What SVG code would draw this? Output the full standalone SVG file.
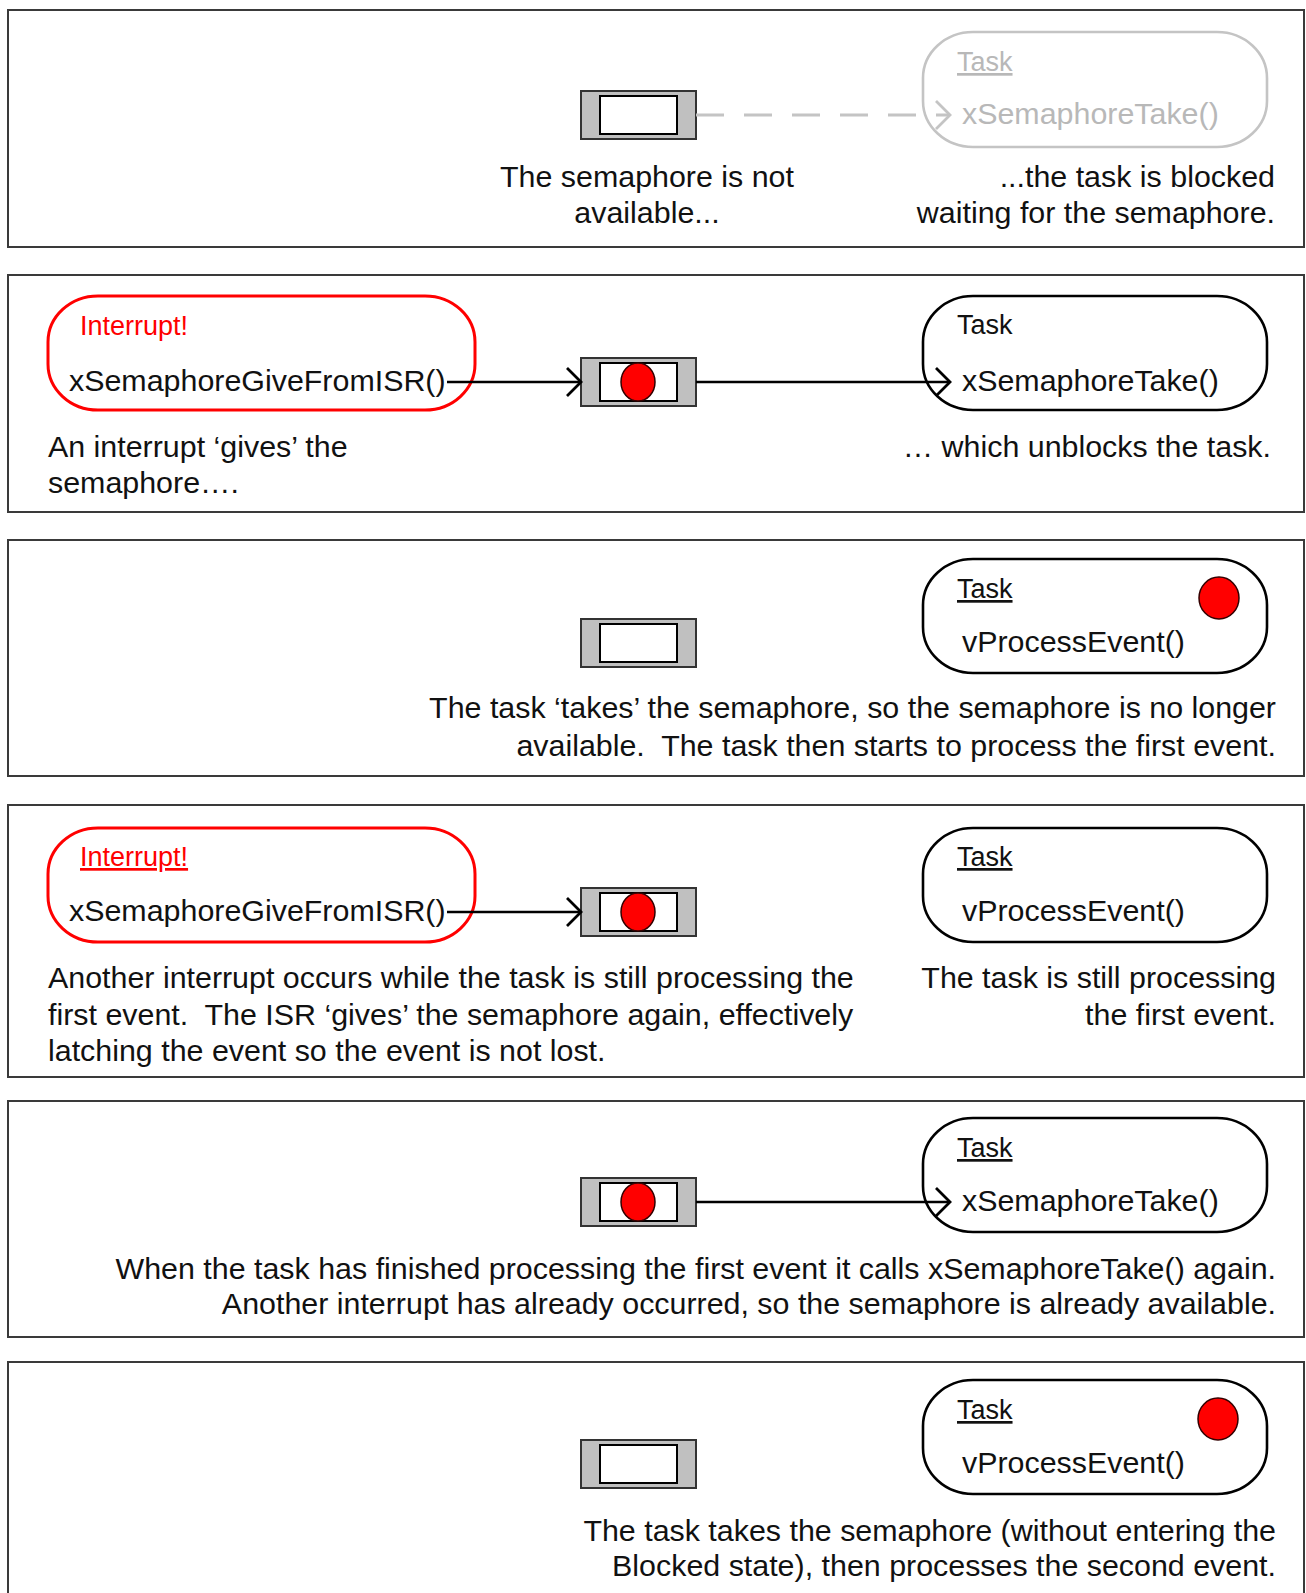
<svg xmlns="http://www.w3.org/2000/svg" width="1306" height="1593" viewBox="0 0 1306 1593">
<style>
text{font-family:"Liberation Sans",Arial,sans-serif;font-size:30.4px;fill:#111;white-space:pre}
.lbl{font-size:27px}
.u{text-decoration:underline}
.r{text-anchor:end}
.m{text-anchor:middle}
.gray{fill:#b8b8b8}
.red{fill:#ff0000}
.panel{fill:#fff;stroke:#3a3a3a;stroke-width:2}
.task{fill:#fff;stroke:#000;stroke-width:2.6}
.taskg{fill:#fff;stroke:#c4c4c4;stroke-width:2.6}
.isr{fill:#fff;stroke:#ff0000;stroke-width:3}
.semo{fill:#c0c0c0;stroke:#333;stroke-width:2}
.semi{fill:#fff;stroke:#000;stroke-width:2}
.dot{fill:#ff0000;stroke:#300;stroke-width:1.5}
.conn{fill:none;stroke:#000;stroke-width:2.6}
.connd{fill:none;stroke:#c4c4c4;stroke-width:3;stroke-dasharray:28 20}
</style>
<defs>
<marker id="ah" viewBox="0 0 18 32" refX="16" refY="16" markerWidth="18" markerHeight="32" markerUnits="userSpaceOnUse" orient="auto">
<path d="M2,2 L16,16 L2,30" fill="none" stroke="#000" stroke-width="2.8"/>
</marker>
<marker id="ahg" viewBox="0 0 18 32" refX="16" refY="16" markerWidth="18" markerHeight="32" markerUnits="userSpaceOnUse" orient="auto">
<path d="M2,2 L16,16 L2,30" fill="none" stroke="#c4c4c4" stroke-width="2.8"/>
</marker>
<g id="sem"><rect class="semo" x="-57" y="-24" width="115" height="48"/><rect class="semi" x="-38" y="-19" width="77" height="38"/></g>
</defs>

<g id="panels">
<rect class="panel" x="8" y="10" width="1296" height="237"/>
<rect class="panel" x="8" y="275" width="1296" height="237"/>
<rect class="panel" x="8" y="540" width="1296" height="236"/>
<rect class="panel" x="8" y="805" width="1296" height="272"/>
<rect class="panel" x="8" y="1101" width="1296" height="236"/>
<rect class="panel" x="8" y="1362" width="1296" height="240"/>
</g>

<!-- Panel 1 -->
<g id="sem1"><use href="#sem" x="638" y="115"/></g>
<g id="task1">
<rect class="taskg" x="923" y="32" width="344" height="115" rx="50" ry="46"/>
<text class="lbl u gray" x="957" y="71">Task</text>
<text class="gray" x="962" y="124">xSemaphoreTake()</text>
</g>
<g id="text1">
<text class="m" x="647" y="187">The semaphore is not</text>
<text class="m" x="647" y="223">available...</text>
<text class="r" x="1275" y="187">...the task is blocked</text>
<text class="r" x="1275" y="223">waiting for the semaphore.</text>
</g>

<!-- Panel 2 -->
<g id="isr2">
<rect class="isr" x="48" y="296" width="427" height="114" rx="50" ry="46"/>
<text class="lbl red" x="80" y="335">Interrupt!</text>
<text x="69" y="391">xSemaphoreGiveFromISR()</text>
</g>
<g id="sem2"><use href="#sem" x="638" y="382"/><ellipse class="dot" cx="638" cy="382" rx="17" ry="19"/></g>
<g id="task2">
<rect class="task" x="923" y="296" width="344" height="114" rx="50" ry="46"/>
<text class="lbl" x="957" y="334">Task</text>
<text x="962" y="391">xSemaphoreTake()</text>
</g>
<g id="text2">
<text x="48" y="457">An interrupt ‘gives’ the</text>
<text x="48" y="493">semaphore….</text>
<text class="r" x="1271" y="457">… which unblocks the task.</text>
</g>

<!-- Panel 3 -->
<g id="sem3"><use href="#sem" x="638" y="643"/></g>
<g id="task3">
<rect class="task" x="923" y="559" width="344" height="114" rx="50" ry="46"/>
<text class="lbl u" x="957" y="598">Task</text>
<text x="962" y="652">vProcessEvent()</text>
<ellipse class="dot" cx="1219" cy="598" rx="20" ry="21"/>
</g>
<g id="text3">
<text class="r" x="1276" y="718">The task ‘takes’ the semaphore, so the semaphore is no longer</text>
<text class="r" x="1276" y="756">available.  The task then starts to process the first event.</text>
</g>

<!-- Panel 4 -->
<g id="isr4">
<rect class="isr" x="48" y="828" width="427" height="114" rx="50" ry="46"/>
<text class="lbl u red" x="80" y="866">Interrupt!</text>
<text x="69" y="921">xSemaphoreGiveFromISR()</text>
</g>
<g id="sem4"><use href="#sem" x="638" y="912"/><ellipse class="dot" cx="638" cy="912" rx="17" ry="19"/></g>
<g id="task4">
<rect class="task" x="923" y="828" width="344" height="114" rx="50" ry="46"/>
<text class="lbl u" x="957" y="866">Task</text>
<text x="962" y="921">vProcessEvent()</text>
</g>
<g id="text4">
<text x="48" y="988">Another interrupt occurs while the task is still processing the</text>
<text x="48" y="1025">first event.  The ISR ‘gives’ the semaphore again, effectively</text>
<text x="48" y="1061">latching the event so the event is not lost.</text>
<text class="r" x="1276" y="988">The task is still processing</text>
<text class="r" x="1276" y="1025">the first event.</text>
</g>

<!-- Panel 5 -->
<g id="sem5"><use href="#sem" x="638" y="1202"/><ellipse class="dot" cx="638" cy="1202" rx="17" ry="19"/></g>
<g id="task5">
<rect class="task" x="923" y="1118" width="344" height="114" rx="50" ry="46"/>
<text class="lbl u" x="957" y="1157">Task</text>
<text x="962" y="1211">xSemaphoreTake()</text>
</g>
<g id="text5">
<text class="r" x="1276" y="1279">When the task has finished processing the first event it calls xSemaphoreTake() again.</text>
<text class="r" x="1276" y="1314">Another interrupt has already occurred, so the semaphore is already available.</text>
</g>

<!-- Panel 6 -->
<g id="sem6"><use href="#sem" x="638" y="1464"/></g>
<g id="task6">
<rect class="task" x="923" y="1380" width="344" height="114" rx="50" ry="46"/>
<text class="lbl u" x="957" y="1419">Task</text>
<text x="962" y="1473">vProcessEvent()</text>
<ellipse class="dot" cx="1218" cy="1419" rx="20" ry="21"/>
</g>
<g id="text6">
<text class="r" x="1276" y="1541">The task takes the semaphore (without entering the</text>
<text class="r" x="1276" y="1576">Blocked state), then processes the second event.</text>
</g>

<g id="connectors">
<line class="connd" x1="696" y1="115" x2="950" y2="115" marker-end="url(#ahg)"/>
<line class="conn" x1="447" y1="382" x2="581" y2="382" marker-end="url(#ah)"/>
<line class="conn" x1="696" y1="382" x2="950" y2="382" marker-end="url(#ah)"/>
<line class="conn" x1="447" y1="912" x2="581" y2="912" marker-end="url(#ah)"/>
<line class="conn" x1="696" y1="1202" x2="950" y2="1202" marker-end="url(#ah)"/>
</g>
</svg>
